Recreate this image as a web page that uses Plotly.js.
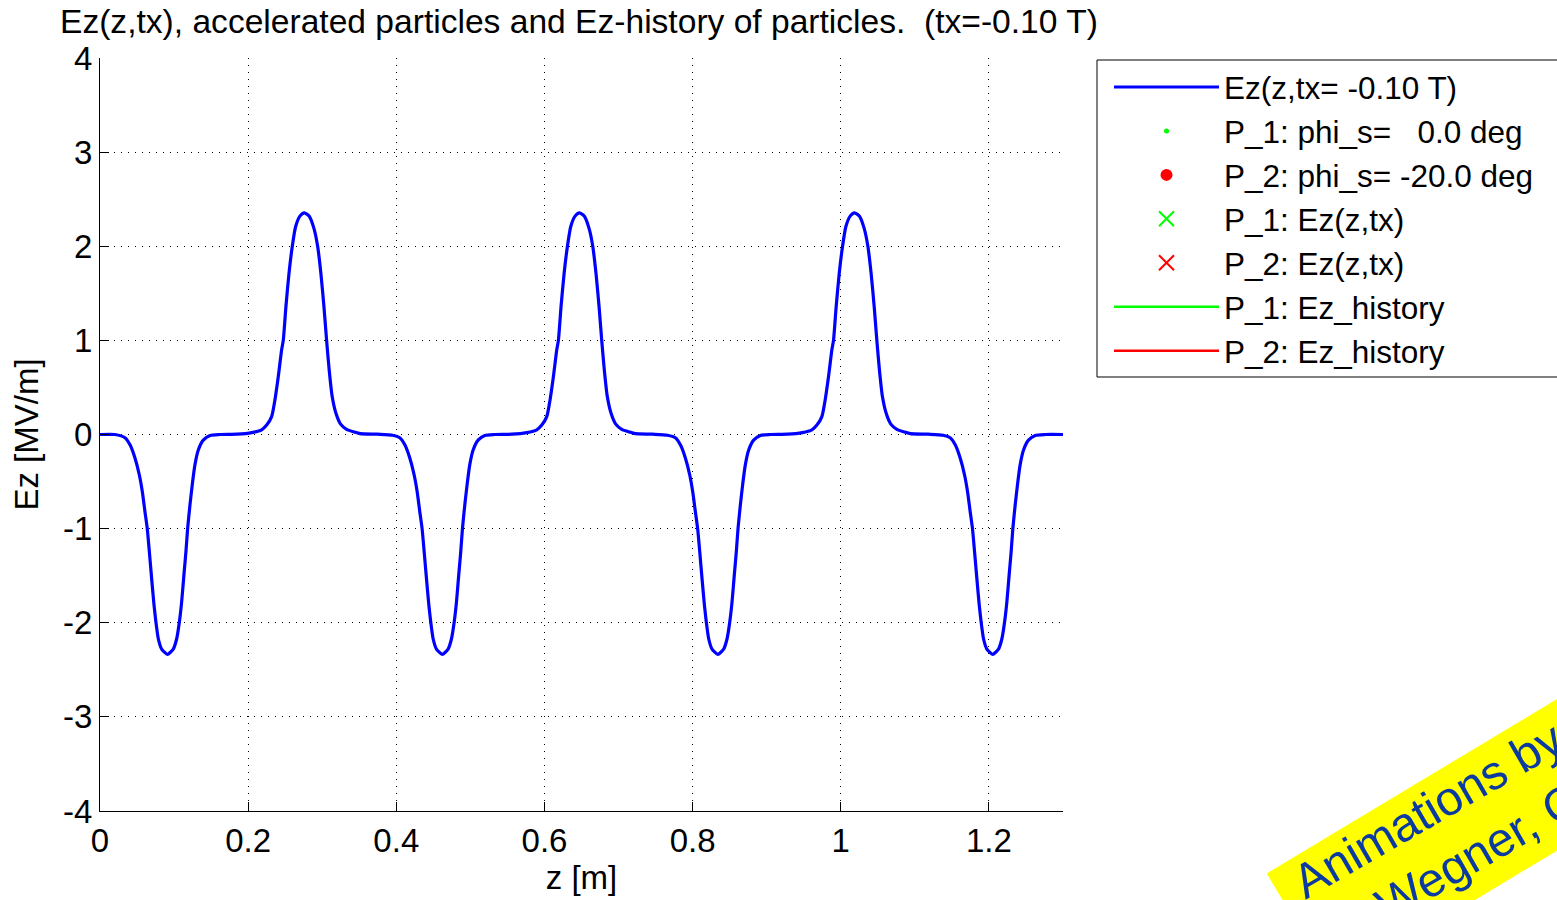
<!DOCTYPE html>
<html>
<head>
<meta charset="utf-8">
<script src="https://cdn.plot.ly/plotly-3.0.1.min.js"></script>
<style>
  html, body { margin: 0; padding: 0; background: #ffffff; }
  #chart { width: 1557px; height: 900px; }
</style>
</head>
<body>
<div id="chart"></div>
<script>
// ---- data ----
const zPos = [
  0, 0.02, 0.0337, 0.0405, 0.0472, 0.0531, 0.0572, 0.0607, 0.0638, 0.0666, 0.0697, 0.0729, 0.0756, 0.0787, 0.0832,
  0.091, 0.0989, 0.1035, 0.107, 0.1102, 0.1133, 0.116, 0.1183, 0.1215, 0.1246, 0.1282, 0.1327, 0.1394, 0.1485, 0.162,
  0.185, 0.205,
  0.2182, 0.225, 0.2317, 0.2362, 0.2406, 0.2452, 0.2474, 0.251, 0.2551, 0.2596, 0.2641, 0.2699, 0.2758,
  0.2825, 0.2888, 0.2938, 0.2982, 0.3023, 0.3059, 0.3094, 0.3135, 0.3185, 0.3248, 0.3329, 0.344, 0.351,
  0.375, 0.395,
  0.4047, 0.4115, 0.4182, 0.4241, 0.4282, 0.4317, 0.4348, 0.4376, 0.4407, 0.4439, 0.4466, 0.4497, 0.4542,
  0.462, 0.4699, 0.4745, 0.478, 0.4812, 0.4843, 0.487, 0.4893, 0.4925, 0.4956, 0.4992, 0.5037, 0.5104, 0.5195, 0.533,
  0.556, 0.576,
  0.5896, 0.5964, 0.6031, 0.6076, 0.612, 0.6166, 0.6188, 0.6224, 0.6265, 0.631, 0.6355, 0.6413, 0.6472,
  0.6539, 0.6602, 0.6652, 0.6696, 0.6737, 0.6773, 0.6808, 0.6849, 0.6899, 0.6962, 0.7043, 0.7154, 0.7224,
  0.746, 0.766,
  0.7767, 0.7835, 0.7902, 0.7961, 0.8002, 0.8037, 0.8068, 0.8096, 0.8127, 0.8159, 0.8186, 0.8217, 0.8262,
  0.834, 0.8419, 0.8465, 0.85, 0.8532, 0.8563, 0.859, 0.8613, 0.8645, 0.8676, 0.8712, 0.8757, 0.8824, 0.8915, 0.905,
  0.928, 0.948,
  0.961, 0.9678, 0.9745, 0.979, 0.9834, 0.988, 0.9902, 0.9938, 0.9979, 1.0024, 1.0069, 1.0127, 1.0186,
  1.0253, 1.0316, 1.0366, 1.041, 1.0451, 1.0487, 1.0522, 1.0563, 1.0613, 1.0676, 1.0757, 1.0868, 1.0938,
  1.118, 1.138,
  1.1477, 1.1545, 1.1612, 1.1671, 1.1712, 1.1747, 1.1778, 1.1806, 1.1837, 1.1869, 1.1896, 1.1927, 1.1972,
  1.205, 1.2129, 1.2175, 1.221, 1.2242, 1.2273, 1.23, 1.2323, 1.2355, 1.2386, 1.2422, 1.2467, 1.2534, 1.2625, 1.276,
  1.3
];
const ezField = [
  0, 0, -0.035, -0.11, -0.25, -0.43, -0.61, -0.82, -1.0, -1.245, -1.53, -1.81, -2.0, -2.17, -2.28,
  -2.335, -2.28, -2.17, -2.0, -1.78, -1.49, -1.245, -1.0, -0.745, -0.53, -0.32, -0.165, -0.06, -0.01, 0,
  0.003, 0.02,
  0.05, 0.10, 0.19, 0.37, 0.61, 0.90, 1.0, 1.36, 1.71, 2.0, 2.21, 2.32, 2.355,
  2.32, 2.19, 2.0, 1.71, 1.36, 1.0, 0.685, 0.40, 0.225, 0.11, 0.055, 0.025, 0.01,
  0.003, -0.008,
  -0.035, -0.11, -0.25, -0.43, -0.61, -0.82, -1.0, -1.245, -1.53, -1.81, -2.0, -2.17, -2.28,
  -2.335, -2.28, -2.17, -2.0, -1.78, -1.49, -1.245, -1.0, -0.745, -0.53, -0.32, -0.165, -0.06, -0.01, 0,
  0.003, 0.02,
  0.05, 0.10, 0.19, 0.37, 0.61, 0.90, 1.0, 1.36, 1.71, 2.0, 2.21, 2.32, 2.355,
  2.32, 2.19, 2.0, 1.71, 1.36, 1.0, 0.685, 0.40, 0.225, 0.11, 0.055, 0.025, 0.01,
  0.003, -0.008,
  -0.035, -0.11, -0.25, -0.43, -0.61, -0.82, -1.0, -1.245, -1.53, -1.81, -2.0, -2.17, -2.28,
  -2.335, -2.28, -2.17, -2.0, -1.78, -1.49, -1.245, -1.0, -0.745, -0.53, -0.32, -0.165, -0.06, -0.01, 0,
  0.003, 0.02,
  0.05, 0.10, 0.19, 0.37, 0.61, 0.90, 1.0, 1.36, 1.71, 2.0, 2.21, 2.32, 2.355,
  2.32, 2.19, 2.0, 1.71, 1.36, 1.0, 0.685, 0.40, 0.225, 0.11, 0.055, 0.025, 0.01,
  0.003, -0.008,
  -0.035, -0.11, -0.25, -0.43, -0.61, -0.82, -1.0, -1.245, -1.53, -1.81, -2.0, -2.17, -2.28,
  -2.335, -2.28, -2.17, -2.0, -1.78, -1.49, -1.245, -1.0, -0.745, -0.53, -0.32, -0.165, -0.06, -0.01, 0,
  0
];
// particle series (no particle is visible at this instant)
const p1PhaseZ = [null], p1PhaseEz = [null];
const p2PhaseZ = [null], p2PhaseEz = [null];
const p1EzZ = [null], p1EzVal = [null];
const p2EzZ = [null], p2EzVal = [null];
const p1HistZ = [null], p1HistEz = [null];
const p2HistZ = [null], p2HistEz = [null];

const seriesNames = [
  'Ez(z,tx= -0.10 T)',
  'P_1: phi_s=   0.0 deg',
  'P_2: phi_s= -20.0 deg',
  'P_1: Ez(z,tx)',
  'P_2: Ez(z,tx)',
  'P_1: Ez_history',
  'P_2: Ez_history'
];
const xTickVals = [0, 0.2, 0.4, 0.6, 0.8, 1, 1.2];
const xTickText = ['0', '0.2', '0.4', '0.6', '0.8', '1', '1.2'];
const yTickVals = [-4, -3, -2, -1, 0, 1, 2, 3, 4];
const yTickText = ['-4', '-3', '-2', '-1', '0', '1', '2', '3', '4'];
const titleText = 'Ez(z,tx), accelerated particles and Ez-history of particles.  (tx=-0.10 T)';
const watermarkLines = ['Animations by', 'R. Wegner, CERN'];

// ---- layout geometry ----
const W = 1557, H = 900;
const mL = 100, mR = W - 1063, mT = 58, mB = H - 811;
const plotW = W - mL - mR, plotH = H - mT - mB;
const px2x = p => (p - mL) / plotW;
const px2y = p => (H - mB - p) / plotH;
const FONT = 'Liberation Sans, Arial, Helvetica, sans-serif';

const traces = [
  { x: zPos, y: ezField, name: seriesNames[0], mode: 'lines', legendgroup: 'g0',
    line: { color: '#0000ff', width: 3.2, shape: 'spline', smoothing: 0.6 } },
  { x: p1PhaseZ, y: p1PhaseEz, name: seriesNames[1], mode: 'markers', legendgroup: 'g1',
    marker: { color: '#00ff00', size: 5, symbol: 'circle' } },
  { x: p2PhaseZ, y: p2PhaseEz, name: seriesNames[2], mode: 'markers', legendgroup: 'g2',
    marker: { color: '#ff0000', size: 12, symbol: 'circle' } },
  { x: p1EzZ, y: p1EzVal, name: seriesNames[3], mode: 'markers', legendgroup: 'g3',
    marker: { color: '#00ff00', size: 15, symbol: 'x-thin', line: { color: '#00ff00', width: 2 } } },
  { x: p2EzZ, y: p2EzVal, name: seriesNames[4], mode: 'markers', legendgroup: 'g4',
    marker: { color: '#ff0000', size: 15, symbol: 'x-thin', line: { color: '#ff0000', width: 2 } } },
  { x: p1HistZ, y: p1HistEz, name: seriesNames[5], mode: 'lines', legendgroup: 'g5',
    line: { color: '#00ff00', width: 2.5 } },
  { x: p2HistZ, y: p2HistEz, name: seriesNames[6], mode: 'lines', legendgroup: 'g6',
    line: { color: '#ff0000', width: 2.5 } }
];

// watermark band (decoration), rotated rectangle
const ang = 31 * Math.PI / 180;
const d = [Math.cos(ang), -Math.sin(ang)], n = [Math.sin(ang), Math.cos(ang)];
const c0 = [1266.7, 873.5];
const c1 = [c0[0] + 600 * d[0], c0[1] + 600 * d[1]];
const c2 = [c1[0] + 130 * n[0], c1[1] + 130 * n[1]];
const c3 = [c0[0] + 130 * n[0], c0[1] + 130 * n[1]];
const bandPath = 'M' + [c0, c1, c2, c3].map(p => px2x(p[0]) + ',' + px2y(p[1])).join(' L') + ' Z';

const gridDash = '1px,6px';
const layout = {
  width: W, height: H,
  margin: { l: mL, r: mR, t: mT, b: mB, pad: 0, autoexpand: false },
  paper_bgcolor: '#ffffff', plot_bgcolor: '#ffffff',
  font: { family: FONT, size: 33, color: '#000000' },
  showlegend: true,
  title: {
    text: titleText, font: { family: FONT, size: 33.6, color: '#000000' },
    xref: 'container', yref: 'container', x: 60 / W, xanchor: 'left', y: 1 - 21.5 / H, yanchor: 'middle'
  },
  xaxis: {
    range: [0, 1.3], tickmode: 'array', tickvals: xTickVals, ticktext: xTickText,
    showgrid: true, gridcolor: '#000000', gridwidth: 1, griddash: gridDash,
    zeroline: false, showline: true, linecolor: '#000000', linewidth: 1, mirror: false,
    ticks: 'inside', ticklen: 9, tickwidth: 1, tickcolor: '#000000',
    tickfont: { family: FONT, size: 33, color: '#000000' },
    title: { text: 'z [m]', font: { family: FONT, size: 33, color: '#000000' }, standoff: 6 },
    fixedrange: true
  },
  yaxis: {
    range: [-4, 4], tickmode: 'array', tickvals: yTickVals, ticktext: yTickText,
    showgrid: true, gridcolor: '#000000', gridwidth: 1, griddash: gridDash,
    zeroline: false, showline: true, linecolor: '#000000', linewidth: 1, mirror: false,
    ticks: 'inside', ticklen: 9, tickwidth: 1, tickcolor: '#000000',
    tickfont: { family: FONT, size: 33, color: '#000000' },
    title: { text: 'Ez [MV/m]', font: { family: FONT, size: 33, color: '#000000' }, standoff: 14 },
    fixedrange: true
  },
  legend: {
    x: px2x(1109), y: px2y(60), xanchor: 'left', yanchor: 'top',
    xref: 'paper', yref: 'paper',
    bgcolor: 'rgba(0,0,0,0)', borderwidth: 0,
    font: { family: FONT, size: 31.5, color: '#000000' },
    itemwidth: 105, tracegroupgap: 0, traceorder: 'normal',
    itemclick: false, itemdoubleclick: false
  },
  shapes: [
    { type: 'rect', xref: 'paper', yref: 'paper', x0: px2x(1097), x1: px2x(1620), y0: px2y(377), y1: px2y(60),
      line: { color: '#000000', width: 1 }, fillcolor: '#ffffff', layer: 'above' },
    { type: 'path', xref: 'paper', yref: 'paper', path: bandPath,
      fillcolor: '#ffff00', line: { width: 0 }, layer: 'above' }
  ],
  annotations: [
    { xref: 'paper', yref: 'paper', x: px2x(1427), y: px2y(810), xanchor: 'center', yanchor: 'middle',
      text: watermarkLines[0], textangle: -30, showarrow: false,
      font: { family: FONT, size: 48, color: '#0b3aa0' } },
    { xref: 'paper', yref: 'paper', x: px2x(1495), y: px2y(842.5), xanchor: 'center', yanchor: 'middle',
      text: watermarkLines[1], textangle: -30, showarrow: false,
      font: { family: FONT, size: 48, color: '#0b3aa0' } }
  ]
};

Plotly.newPlot('chart', traces, layout, { displayModeBar: false, staticPlot: true });
</script>
</body>
</html>
